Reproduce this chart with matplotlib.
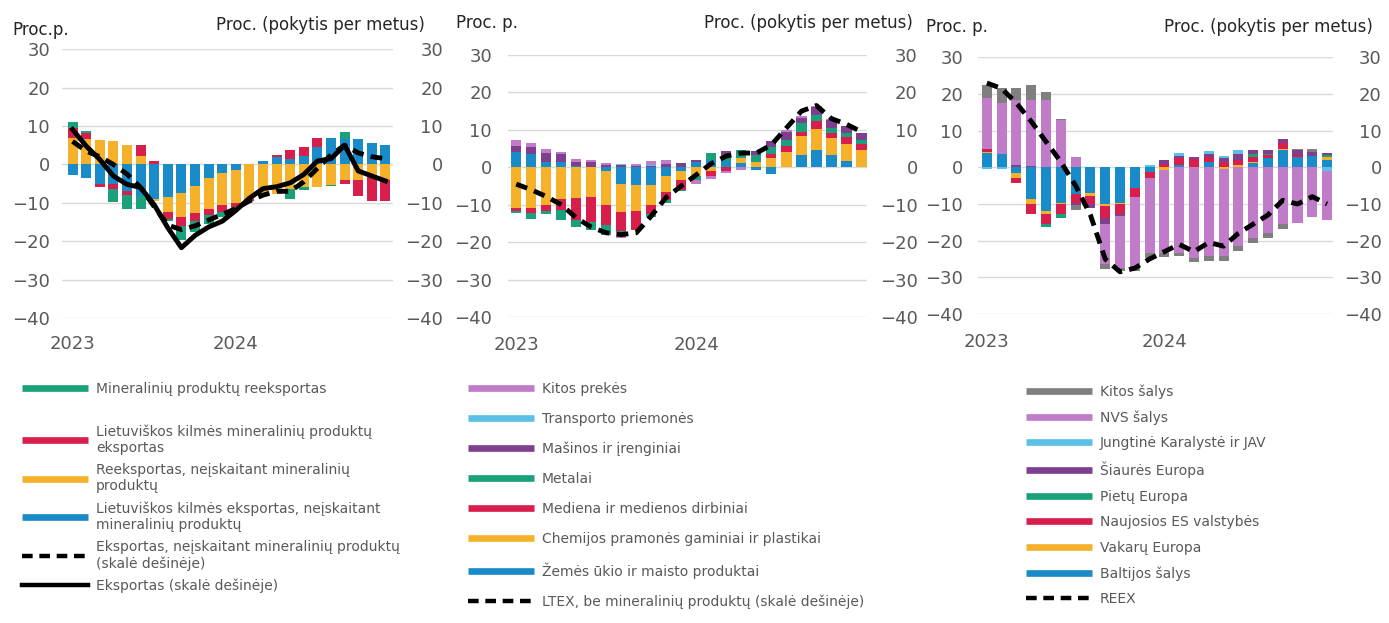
import numpy as np
import matplotlib.pyplot as plt
from matplotlib.lines import Line2D

plt.rcParams['font.family'] = ['DejaVu Sans']

months = np.arange(24)
year_ticks = [0, 12]
year_labels = ["2023", "2024"]

# ---- panel 1: export by origin
p1_lt = [-2.7, -3.5, -5, -5, -7, -8.3, -9, -8.5, -7.5, -5.7, -3.5, -2.3,
         -1.5, 0, 1, 2, 1.5, 2.3, 4.5, 7, 6.5, 6.5, 5.7, 5]
p1_reex = [7, 6.5, 6.3, 6, 5, 2.2, -0.5, -4, -6.3, -7, -8.2, -8.2,
           -8.5, -9, -7.4, -7.8, -6.5, -6, -5.8, -5.3, -4, -4, -3, -4]
p1_lt_min = [2.5, 1.8, -0.8, -1.5, -1, 2.8, 1, -1.8, -2.3, -2, -1.5, -1.8,
             -1, -0.5, 0, 0.4, 2.2, 2.2, 2.5, 0, -1.2, -4.3, -6.4, -5.4]
p1_reex_min = [1.5, 0.4, 0, -3.3, -3.5, -3.3, 0, -0.5, -3.5, -2.8, -2.4, -1.5,
               -0.5, 0, -0.5, 0, -2.5, -0.7, 0, -0.4, 2, 0, 0, 0]
p1_excl = [6, 3.5, 2, 0, -2.5, -6, -11, -15.8, -17, -16, -14.5, -13,
           -11.5, -9.5, -8, -7, -7, -4.5, -1, 2.5, 5, 3, 2, 1.5]
p1_total = [9.1, 4.8, 1.3, -3, -5.2, -6, -10.5, -16.5, -21.7, -18.5, -16.3, -14.8,
            -12, -8.8, -6.3, -5.8, -4.8, -2.6, 0.9, 1.5, 5, -1.7, -3, -4.3]

# ---- panel 2: export by product group
p2_food = [4, 3.5, 1.5, 1.5, 0.3, 0.2, -1, -4.5, -4.7, -4.8, -2.4, -1,
           1.5, 2, 1.6, 1.2, -0.7, -1.8, 0.2, 3.4, 4.7, 3.4, 1.8, 0]
p2_chem = [-11, -11, -10, -8.5, -8.2, -8, -9, -7.5, -7, -5.3, -4.1, -2.3,
           -2.4, -1, 0, 1.3, 1.5, 2.5, 3.8, 4.9, 5.4, 4.5, 4.3, 4.5]
p2_wood = [-0.6, -1.3, -1.8, -3, -5.8, -6.5, -5.5, -5, -5, -2.5, -2.2, -2.7,
           0, -1.4, -0.9, 0, 0, 1, 1.7, 1.1, 2.4, 1.3, 2, 1.6]
p2_metal = [-0.7, -1.4, -0.7, -2.5, -2, -2.3, -2.5, -0.5, 0, -0.8, -0.9, -0.3,
            -1, 1.8, 1.8, 2, 1.8, 1.8, 1.6, 2.3, 1.5, 1.4, 1.1, 1.3]
p2_mach = [1.8, 2, 2.3, 2, 1.2, 1.1, 0.7, 0.5, 0.4, 0.4, 1, 1.2,
           0.5, 0, 0.9, 0.1, 1, 1.8, 2.2, 1.5, 2, 2, 1.8, 1.8]
p2_transp = [0, 0, 0, 0, 0, 0, 0, 0.5, 0, 0.3, 0, 0,
             0, 0, 0, 0, 0, 0, 0, 0, 0, 0, 0, 0]
p2_other = [1.5, 1, 1.2, 0.6, 0.8, 0.7, 0.5, -1.5, 0.6, 1.1, 0.9, 0,
            -1.2, -0.6, -0.6, -0.6, 0, 0, 0.5, 0.5, 0.5, 0.3, 0, 0]
p2_ltex = [-4.5, -6, -7.8, -10, -13.5, -16, -17.5, -18, -17.5, -13, -8, -5,
           -2, 1, 3, 3.8, 3.8, 6, 10.5, 15, 16.5, 13, 11.5, 9.5]

# ---- panel 3: re-export by destination
p3_baltic = [3.8, 3.5, -1.6, -8.7, -11.9, -9.6, -7.3, -6.9, -10, -9.6, -5.7, -1.4,
             0, 0.5, 0, 1.4, 0, 0, 1.1, 2.6, 4.8, 2.9, 3.2, 2]
p3_west = [0.3, 0, -1.3, -1.2, -0.7, -0.5, 0, -0.9, -0.5, -0.5, 0, 0,
           -0.7, 0, 0, 0, -0.5, 0.5, 0.3, 0, 0.3, 0, 0, 0.9]
p3_neweu = [0.8, 0, -1.5, -2.7, -2.8, -2.5, -2.3, -2.1, -3.2, -2.5, -2.5, -1.5,
            1, 2, 2.2, 1.5, 1.4, 1.6, 1.4, 0.7, 1.5, 0.5, 0, 0]
p3_south = [0, 0, 0, 0, -0.9, -1.3, 0, 0, 0, 0, 0, 0,
            0, 0, 0, 0, 0, 0, 0.9, 0.3, 0, 0, 0, 0.5]
p3_north = [0, 0, 0.5, 0.4, 0, 0, -0.8, -1.2, -1.7, -0.7, 0, 0,
            1, 0.5, 0.7, 0.7, 1.1, 1.5, 1.1, 1.0, 1.2, 1.2, 1, 0.4]
p3_ukus = [-0.5, -0.5, 0, 0, 0, 0, 0, 0, 0, 0, 0, 0.5,
           0, 1, 0, 0.9, 0.7, 1.1, 0, 0, 0, 0, 0, -0.9]
p3_cis = [14, 14, 17.8, 17.9, 18.3, 13, 2.9, 0, -11.1, -14.1, -18.8, -20.4,
          -22.6, -23.3, -24.7, -24.2, -23.7, -21.5, -19.2, -17.8, -15.4, -15.1, -13.5, -13.6]
p3_rest = [3.5, 4, 3.2, 4.1, 2.3, 0.3, -1.3, 0, -1.1, -1, -1.2, -1.4,
           -1.2, -1, -1.2, -1.4, -1.4, -1.4, -1.4, -1.4, -1.3, 0.5, 0.8, 0]
p3_reex = [23, 21.5, 17.5, 12.5, 7, 1.5, -5, -13, -25, -28.5, -27.5, -25,
           -23, -21, -23, -20.5, -21.5, -18, -15.5, -13, -9, -10, -8, -10]

BLUE = "#1a8bc9"
ORANGE = "#f6b12a"
RED = "#d81f4c"
GREEN = "#1aa07a"
PURPLE = "#7d3f8e"
LBLUE = "#5cc0e6"
ORCHID = "#c07cc9"
GREY = "#7f7f7f"
TXT = "#595959"


def stacked(ax, series, colors, width):
    pos = np.zeros(len(months))
    neg = np.zeros(len(months))
    for vals, c in zip(series, colors):
        v = np.array(vals, dtype=float)
        ax.bar(months, v, bottom=np.where(v >= 0, pos, neg), width=width,
               color=c, linewidth=0)
        pos += np.clip(v, 0, None)
        neg += np.clip(v, None, 0)


def setup(ax, xlim, lpad, rpad, xpad):
    ax.set_ylim(-40, 30)
    ax.set_yticks(range(-40, 31, 10))
    ax.set_xlim(*xlim)
    ax.set_xticks(year_ticks)
    ax.set_xticklabels(year_labels)
    ax.grid(axis="y", color="#d9d9d9", linewidth=1)
    ax.set_axisbelow(True)
    for s in ax.spines.values():
        s.set_visible(False)
    ax.tick_params(length=0, labelsize=13, colors=TXT)
    ax.tick_params(axis="y", pad=lpad)
    ax.tick_params(axis="x", pad=xpad)
    ax2 = ax.twinx()
    ax2.set_ylim(-40, 30)
    ax2.set_yticks(range(-40, 31, 10))
    for s in ax2.spines.values():
        s.set_visible(False)
    ax2.tick_params(length=0, labelsize=13, colors=TXT, pad=rpad)
    for lab in ax2.get_yticklabels():
        lab.set_horizontalalignment("right")
    return ax2


fig = plt.figure(figsize=(13.89, 6.23), dpi=100)

dash = (0, (2.4, 1.5))

# panel 1
ax1 = fig.add_axes([0.0446, 0.4896, 0.2383, 0.4313])
stacked(ax1, [p1_lt, p1_reex, p1_lt_min, p1_reex_min], [BLUE, ORANGE, RED, GREEN], 0.74)
ax1r = setup(ax1, (-0.78, 23.55), 8.6, 36, 12)
ax1r.plot(months, p1_excl, color="black", lw=3.5, linestyle=dash)
ax1r.plot(months, p1_total, color="black", lw=3.5)

# panel 2
ax2 = fig.add_axes([0.3657, 0.4912, 0.2585, 0.4205])
stacked(ax2, [p2_food, p2_chem, p2_wood, p2_metal, p2_mach, p2_transp, p2_other],
        [BLUE, ORANGE, RED, GREEN, PURPLE, LBLUE, ORCHID], 0.68)
ax2r = setup(ax2, (-0.55, 23.37), 11.5, 36.5, 14)
ax2r.plot(months, p2_ltex, color="black", lw=3.5, linestyle=dash)

# panel 3
ax3 = fig.add_axes([0.7041, 0.4960, 0.2556, 0.4120])
stacked(ax3, [p3_baltic, p3_west, p3_neweu, p3_south, p3_north, p3_ukus, p3_cis, p3_rest],
        [BLUE, ORANGE, RED, GREEN, PURPLE, LBLUE, ORCHID, GREY], 0.68)
ax3r = setup(ax3, (-0.6, 23.4), 10.8, 35, 14)
ax3r.plot(months, p3_reex, color="black", lw=3.5, linestyle=dash)

# titles
tk = dict(fontsize=12, color="#262626", va="center")
fig.text(0.0086, 0.952, "Proc.p.", ha="left", **tk)
fig.text(0.306, 0.960, "Proc. (pokytis per metus)", ha="right", **tk)
fig.text(0.328, 0.963, "Proc. p.", ha="left", **tk)
fig.text(0.657, 0.963, "Proc. (pokytis per metus)", ha="right", **tk)
fig.text(0.667, 0.957, "Proc. p.", ha="left", **tk)
fig.text(0.9885, 0.957, "Proc. (pokytis per metus)", ha="right", **tk)


def patch(c):
    return Line2D([], [], color=c, lw=4.8, solid_capstyle="butt")


def dline():
    return Line2D([], [], color="black", lw=3.2, linestyle=dash)


leg_kw = dict(loc="upper left", frameon=False, borderpad=0, borderaxespad=0,
              fontsize=10, labelcolor=TXT, handlelength=4.75, handletextpad=0.58)

fig.legend([patch(GREEN)], ["Mineralinių produktų reeksportas"],
           bbox_to_anchor=(0.0158, 0.387), **leg_kw)
fig.legend([patch(RED), patch(ORANGE), patch(BLUE), dline(),
            Line2D([], [], color="black", lw=3.2)],
           ["Lietuviškos kilmės mineralinių produktų\neksportas",
            "Reeksportas, neįskaitant mineralinių\nproduktų",
            "Lietuviškos kilmės eksportas, neįskaitant\nmineralinių produktų",
            "Eksportas, neįskaitant mineralinių produktų\n(skalė dešinėje)",
            "Eksportas (skalė dešinėje)"],
           bbox_to_anchor=(0.0158, 0.3194), labelspacing=0.58, **leg_kw)

fig.legend([patch(ORCHID), patch(LBLUE), patch(PURPLE), patch(GREEN), patch(RED),
            patch(ORANGE), patch(BLUE), dline()],
           ["Kitos prekės", "Transporto priemonės", "Mašinos ir įrenginiai", "Metalai",
            "Mediena ir medienos dirbiniai", "Chemijos pramonės gaminiai ir plastikai",
            "Žemės ūkio ir maisto produktai",
            "LTEX, be mineralinių produktų (skalė dešinėje)"],
           bbox_to_anchor=(0.3369, 0.387), labelspacing=1.15, **leg_kw)

fig.legend([patch(GREY), patch(ORCHID), patch(LBLUE), patch(PURPLE), patch(GREEN),
            patch(RED), patch(ORANGE), patch(BLUE), dline()],
           ["Kitos šalys", "NVS šalys", "Jungtinė Karalystė ir JAV", "Šiaurės Europa",
            "Pietų Europa", "Naujosios ES valstybės", "Vakarų Europa", "Baltijos šalys",
            "REEX"],
           bbox_to_anchor=(0.7387, 0.3836), labelspacing=0.83, **leg_kw)

fig.savefig("out.png", dpi=100)
